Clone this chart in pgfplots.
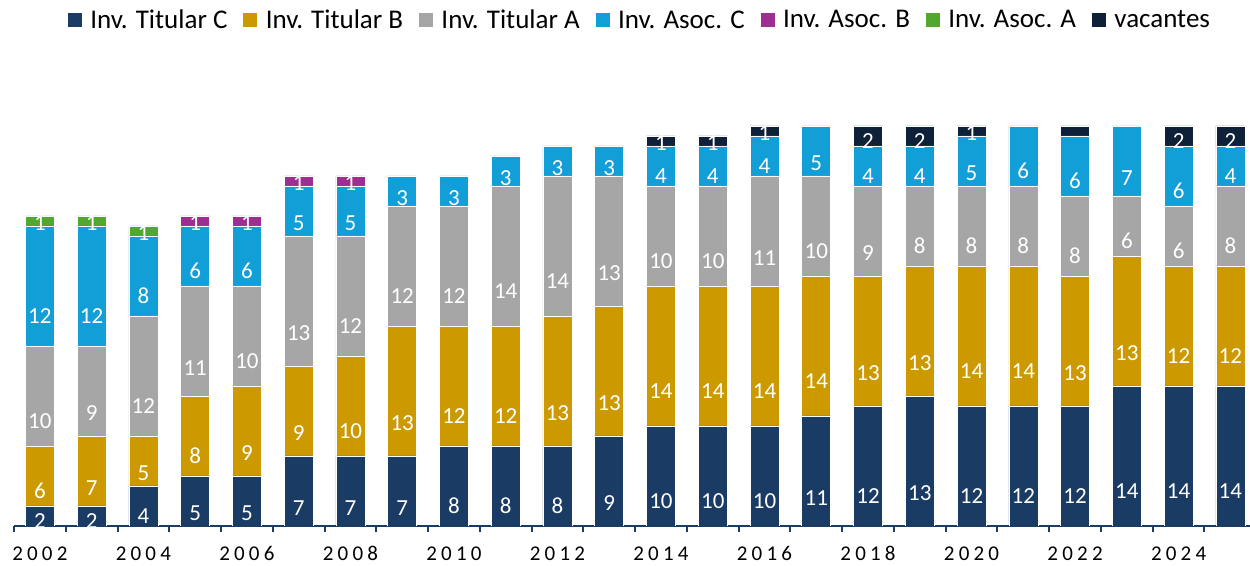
\documentclass[border=0pt]{standalone}
\usepackage{pgfplots}
\pgfplotsset{compat=1.18}
\usepackage{pgfplotstable}
\usepackage{fontspec}
\setmainfont{Carlito}
\newfontfamily\yearfont[LetterSpace=20]{Carlito}
\definecolor{cTC}{HTML}{1A3C64}
\definecolor{cTB}{HTML}{CC9A00}
\definecolor{cTA}{HTML}{A6A6A6}
\definecolor{cAC}{HTML}{129FD7}
\definecolor{cAB}{HTML}{9E2F92}
\definecolor{cAA}{HTML}{52A72F}
\definecolor{cV}{HTML}{0E2139}
% *l columns: label shown in the bar, -1 = no label
\pgfplotstableread{
year tc tb ta ac ab abl aa aal vac vacl
2002 2 6 10 12 0 -1 1 1 0 -1
2003 2 7 9 12 0 -1 1 1 0 -1
2004 4 5 12 8 0 -1 1 1 0 -1
2005 5 8 11 6 1 1 0 -1 0 -1
2006 5 9 10 6 1 1 0 -1 0 -1
2007 7 9 13 5 1 1 0 -1 0 -1
2008 7 10 12 5 1 1 0 -1 0 -1
2009 7 13 12 3 0 -1 0 -1 0 -1
2010 8 12 12 3 0 -1 0 -1 0 -1
2011 8 12 14 3 0 -1 0 -1 0 -1
2012 8 13 14 3 0 -1 0 -1 0 -1
2013 9 13 13 3 0 -1 0 -1 0 -1
2014 10 14 10 4 0 -1 0 -1 1 1
2015 10 14 10 4 0 -1 0 -1 1 1
2016 10 14 11 4 0 -1 0 -1 1 1
2017 11 14 10 5 0 -1 0 -1 0 0
2018 12 13 9 4 0 -1 0 -1 2 2
2019 13 13 8 4 0 -1 0 -1 2 2
2020 12 14 8 5 0 -1 0 -1 1 1
2021 12 14 8 6 0 -1 0 -1 0 -1
2022 12 13 8 6 0 -1 0 -1 1 -1
2023 14 13 6 7 0 -1 0 -1 0 -1
2024 14 12 6 6 0 -1 0 -1 2 2
2025 14 12 8 4 0 -1 0 -1 2 2
}\data
\begin{document}
\begin{tikzpicture}
\begin{axis}[
  at={(0,0)}, anchor=south west,
  scale only axis, width=1236bp, height=400bp,
  xmin=2001.5, xmax=2025.38, ymin=0, ymax=40,
  ybar stacked, bar width=29bp,
  axis x line=bottom, axis y line=none,
  x axis line style={-, draw=cTC, line width=2.5bp},
  xtick={2002,2004,...,2024},
  xticklabels={2002,2004,2006,2008,2010,2012,2014,2016,2018,2020,2022,2024},
  major tick length=0pt,
  minor xtick={2001.5,2002.5,...,2024.5},
  minor tick length=6bp,
  tick align=outside,
  minor tick style={draw=cTC, line width=2bp},
  x tick label style={font=\yearfont\fontsize{21bp}{21bp}\selectfont, text=black, anchor=base, inner sep=0pt, yshift=-34bp},
  ytick=\empty,
  legend columns=-1,
  legend style={draw=none, fill=none, at={(0.5065,1.265)}, anchor=center,
    font=\fontsize{27bp}{27bp}\selectfont,
    /tikz/every even column/.append style={column sep=14bp}},
  legend image code/.code={\fill[#1,draw=none] (0bp,-7bp) rectangle (14bp,7bp); \path (20bp,0bp);},
  point meta=explicit symbolic,
  nodes near coords={\ifnum\pgfplotspointmeta<0 \else\pgfplotspointmeta\fi},
  every node near coord/.append style={font=\fontsize{23bp}{23bp}\selectfont, text=white, anchor=center, yshift=-2.5bp*\pgfplotspointmeta},
  every axis plot/.append style={draw=white, line width=0.6bp},
]
\addplot[fill=cTC] table[x=year, y=tc, meta=tc]{\data};
\addlegendentry{Inv. Titular C}
\addplot[fill=cTB] table[x=year, y=tb, meta=tb]{\data};
\addlegendentry{Inv. Titular B}
\addplot[fill=cTA] table[x=year, y=ta, meta=ta]{\data};
\addlegendentry{Inv. Titular A}
\addplot[fill=cAC] table[x=year, y=ac, meta=ac]{\data};
\addlegendentry{Inv. Asoc. C}
\addplot[fill=cAB] table[x=year, y=ab, meta=abl]{\data};
\addlegendentry{Inv. Asoc. B}
\addplot[fill=cAA] table[x=year, y=aa, meta=aal]{\data};
\addlegendentry{Inv. Asoc. A}
\addplot[fill=cV] table[x=year, y=vac, meta=vacl]{\data};
\addlegendentry{vacantes}
\end{axis}
\pgfresetboundingbox
\path[use as bounding box] (-14bp,-40bp) rectangle (1236bp,526bp);
\end{tikzpicture}
\end{document}
